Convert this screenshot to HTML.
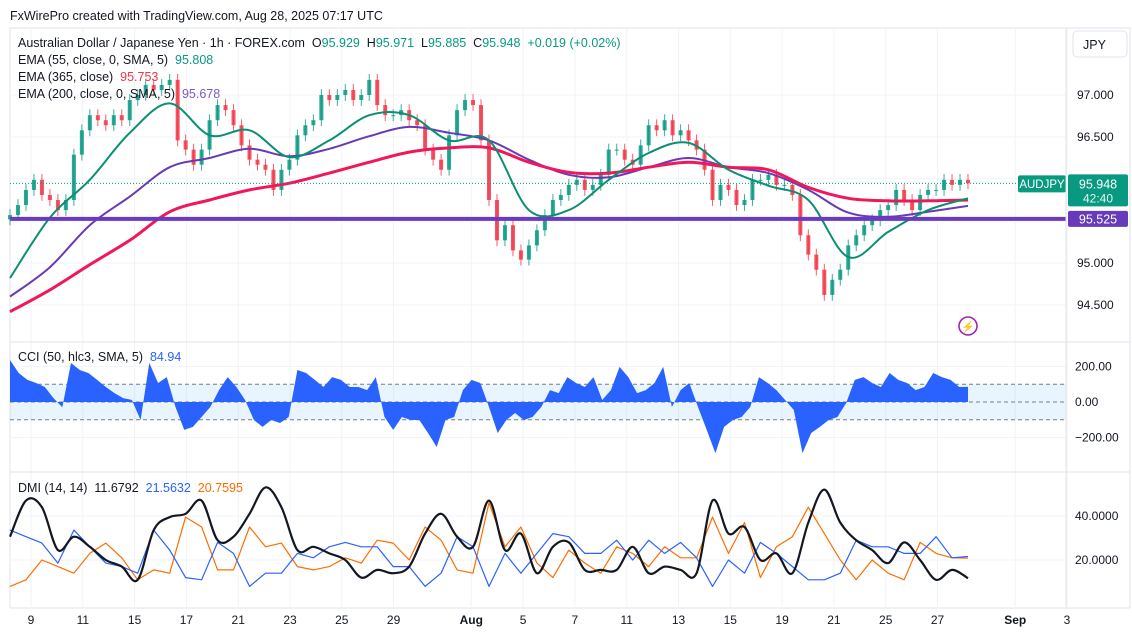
<!DOCTYPE html>
<html><head><meta charset="utf-8"><style>
html,body{margin:0;padding:0;background:#fff;width:1132px;height:637px;overflow:hidden}
svg{display:block;font-family:"Liberation Sans",sans-serif}
.pre text{white-space:pre}
</style></head><body>
<svg id="c" width="1132" height="637" xmlns="http://www.w3.org/2000/svg">
<text x="10" y="20" font-size="12.5" fill="#131722">FxWirePro created with TradingView.com, Aug 28, 2025 07:17 UTC</text>
<rect x="10" y="28" width="1120" height="580" fill="none" stroke="#e0e3eb"/>
<g id="grid"></g>
<g id="price"></g>
<g id="cci"></g>
<g id="dmi"></g>
<g id="axes"></g>
<line x1="1066" y1="28" x2="1066" y2="608" stroke="#e0e3eb"/>
<line x1="10" y1="342" x2="1130" y2="342" stroke="#e0e3eb"/>
<line x1="10" y1="472" x2="1130" y2="472" stroke="#e0e3eb"/>
<g class="pre" font-size="12.5" fill="#131722">
<text x="18" y="47">Australian Dollar / Japanese Yen · 1h · FOREX.com  O<tspan fill="#089981">95.929</tspan>  H<tspan fill="#089981">95.971</tspan>  L<tspan fill="#089981">95.885</tspan>  C<tspan fill="#089981">95.948</tspan>  <tspan fill="#089981">+0.019 (+0.02%)</tspan></text>
<text x="18" y="64">EMA (55, close, 0, SMA, 5)  <tspan fill="#089981">95.808</tspan></text>
<text x="18" y="81">EMA (365, close)  <tspan fill="#f23645">95.753</tspan></text>
<text x="18" y="98">EMA (200, close, 0, SMA, 5)  <tspan fill="#7e57c2">95.678</tspan></text>
<text x="18" y="361">CCI (50, hlc3, SMA, 5)  <tspan fill="#2962ff">84.94</tspan></text>
<text x="18" y="492">DMI (14, 14)  11.6792  <tspan fill="#2962ff">21.5632</tspan>  <tspan fill="#ff6d00">20.7595</tspan></text>
</g>
<g>
<rect x="1073" y="31" width="54" height="26" rx="4" fill="#fff" stroke="#e0e3eb"/>
<text x="1083" y="49" font-size="12.5" fill="#131722">JPY</text></g>
<g>
<circle cx="968" cy="326" r="9" fill="none" stroke="#9c27b0" stroke-width="1.6"/>
<text x="968" y="330.5" font-size="11" fill="#9c27b0" text-anchor="middle">⚡</text></g>
</svg>
<script>
// ---- data ----
const closes=[95.57,95.69,95.87,95.99,95.81,95.75,95.63,95.75,96.29,96.58,96.76,96.70,96.64,96.76,96.70,96.94,97.00,97.12,97.06,97.12,97.18,96.46,96.35,96.17,96.35,96.70,96.88,96.82,96.64,96.40,96.23,96.17,96.11,95.87,96.11,96.23,96.52,96.64,96.70,97.00,96.94,97.00,97.06,96.94,97.00,97.18,96.88,96.76,96.76,96.82,96.70,96.64,96.35,96.23,96.11,96.52,96.82,96.94,96.88,96.46,95.75,95.27,95.45,95.15,95.04,95.21,95.39,95.57,95.75,95.81,95.93,95.99,95.87,95.93,96.05,96.35,96.35,96.23,96.17,96.40,96.64,96.58,96.70,96.52,96.58,96.46,96.35,96.11,95.75,95.93,95.87,95.69,95.75,95.99,95.99,96.05,95.93,95.93,95.81,95.33,95.10,94.92,94.62,94.80,94.92,95.21,95.33,95.45,95.51,95.63,95.69,95.87,95.75,95.63,95.81,95.87,95.87,95.99,95.93,95.99,95.95];
const ema55=[94.82,95.54,95.99,96.55,96.90,96.52,96.58,96.26,96.46,96.76,96.76,96.46,96.46,95.63,95.63,95.99,96.31,96.43,96.11,95.92,95.75,95.07,95.37,95.63,95.77];
const ema200=[94.60,94.95,95.45,95.79,96.14,96.25,96.36,96.27,96.36,96.51,96.62,96.55,96.46,96.23,96.05,96.02,96.14,96.25,96.14,96.07,95.87,95.60,95.55,95.61,95.68];
const ema365=[94.42,94.68,94.98,95.27,95.61,95.75,95.87,95.95,96.07,96.20,96.32,96.37,96.37,96.20,96.08,96.07,96.14,96.20,96.14,96.11,95.90,95.77,95.74,95.74,95.75];
const hLevel=95.525;
const lastPrice=95.948;
const priceTicks=[97.0,96.5,96.0,95.5,95.0,94.5];
const priceTickLabels=["97.000","96.500","","","95.000","94.500"];
const cci=[236,163,124,107,84,22,-30,219,180,163,124,84,50,22,11,-101,219,107,140,-28,-157,-140,-84,-28,67,140,84,11,-101,-140,-101,-118,-84,180,163,124,84,140,124,84,84,67,140,-84,-157,-84,-101,-101,-174,-253,-101,-84,67,124,107,-28,-174,-101,-62,-101,-84,-28,67,50,140,107,84,140,11,67,197,140,50,67,107,197,-28,67,107,-28,-157,-287,-140,-101,-84,-28,140,107,67,11,-45,-287,-174,-140,-101,-84,-6,124,140,107,84,163,124,107,67,84,163,140,124,84,85];
const cciTicks=[200,0,-200];
const cciTickLabels=["200.00","0.00","\u2212200.00"];
const adx=[30.6,47,44,24.5,30.6,26,20,17,11,33.6,39.5,41,47,29,30.6,41,53,44,24.5,26,23,20,12,15.5,14,17,32,41,30.6,26,47,24.5,32,14,26,28,15.5,15.5,15.5,26,14,17,15.5,14,47,32,35,20,23,14,37,52,37,29,24.5,18.6,28,20,11,15.5,11.7];
const diPlus=[33.6,30.6,27.7,18.6,33.6,26,18.6,17,14,33.6,24.5,12,11,28,23,8,14,14,23,21,26,28,26,26,17,17,8,14,30.6,26,8,23,14,23,32,30.6,23,23,29,20,29,23,28,21,8,20,14,28,23,17,11,11,14,29,26,26,23,23,30.6,21,21.6];
const diMinus=[8,11,20,17,14,23,27.7,21,11,15.5,14,39.5,35,15.5,15.5,35,26,27.7,17,15.5,17,21,18.6,29,27.7,20,35,29,15.5,14,46,26,35,18.6,12,24.5,18.6,14,26,23,17,26,21,21,39.5,23,37,12,26,30.6,44,32,20,11,20,14,11,28,23,21,20.8];
const dmiTicks=[40,20];
const dmiTickLabels=["40.0000","20.0000"];
const dateLabels=["9","11","15","17","21","23","25","29","Aug","5","7","11","13","15","19","21","25","27","Sep","3"];
const dateDayIdx=[0,2,4,6,8,10,12,14,17,19,21,23,25,27,29,31,33,35,38,40];

// ---- scales ----
const X0=10,X1=968;
const xi=(i,n)=>X0+i*(X1-X0)/(n-1);
const yP=p=>95+(97-p)*84;
const yC=v=>402-v*0.178;
const yD=v=>560-(v-20)*2.2;
const xDay=d=>31+d*25.9;
const NS="http://www.w3.org/2000/svg";
function mk(tag,attrs,parent){const e=document.createElementNS(NS,tag);for(const k in attrs)e.setAttribute(k,attrs[k]);parent.appendChild(e);return e;}
const G=id=>document.getElementById(id);

// grid
dateDayIdx.forEach((d,i)=>{const l=mk('line',{x1:xDay(d),x2:xDay(d),y1:28,y2:608,stroke:'#f0f3fa'},G('grid'));

});
priceTicks.forEach(p=>{const l=mk('line',{x1:10,x2:1066,y1:yP(p),y2:yP(p),stroke:'#f0f3fa'},G('grid'));

});
[yC(200),yC(-200),yD(40),yD(20)].forEach(y=>{const l=mk('line',{x1:10,x2:1066,y1:y,y2:y,stroke:'#f0f3fa'},G('grid'));

});

// price pane
const pp=G('price');
const n=closes.length;
for(let i=0;i<n;i++){
  const o=i?closes[i-1]:closes[i]-0.05,c=closes[i];
  const up=c>=o,col=up?'#089981':'#f23645';
  const x=xi(i,n);
  const w=mk('line',{x1:x,x2:x,y1:yP(Math.max(o,c)+0.07),y2:yP(Math.min(o,c)-0.07),stroke:col,'stroke-width':1,'stroke-opacity':0.8},pp);
  
  
  const b=mk('rect',{x:x-2,y:yP(Math.max(o,c)),width:4,height:Math.max(1,Math.abs(yP(o)-yP(c))),fill:col,'fill-opacity':0.85},pp);
  
  
}
function smoothPath(pts){
  let d='M'+pts[0][0].toFixed(1)+' '+pts[0][1].toFixed(1);
  for(let i=0;i<pts.length-1;i++){
    const p0=pts[i-1]||pts[i],p1=pts[i],p2=pts[i+1],p3=pts[i+2]||p2;
    const c1=[p1[0]+(p2[0]-p0[0])/6,p1[1]+(p2[1]-p0[1])/6];
    const c2=[p2[0]-(p3[0]-p1[0])/6,p2[1]-(p3[1]-p1[1])/6];
    d+=' C'+c1[0].toFixed(1)+' '+c1[1].toFixed(1)+' '+c2[0].toFixed(1)+' '+c2[1].toFixed(1)+' '+p2[0].toFixed(1)+' '+p2[1].toFixed(1);
  }
  return d;
}
function line(arr,yf,col,w,parent,name,smooth){
  const pts=arr.map((v,i)=>[xi(i,arr.length),yf(v)]);
  const d=smooth?smoothPath(pts):pts.map((p,i)=>(i?'L':'M')+p[0].toFixed(1)+' '+p[1].toFixed(1)).join(' ');
  const p=mk('path',{d:d,fill:'none',stroke:col,'stroke-width':w,'stroke-linejoin':'round'},parent);
  
  
}
line(ema200,yP,'#673ab7',2,pp,'ema200-line',true);
line(ema365,yP,'#f0185a',3,pp,'ema365-line',true);
line(ema55,yP,'#0b8f72',2,pp,'ema55-line',true);
const hl=mk('line',{x1:10,x2:1066,y1:yP(hLevel),y2:yP(hLevel),stroke:'#6a3bc0','stroke-width':4},pp);


const pl=mk('line',{x1:10,x2:1066,y1:yP(lastPrice),y2:yP(lastPrice),stroke:'#089981','stroke-width':1,'stroke-dasharray':'1 2'},pp);



// CCI pane
const cp=G('cci');
const band=mk('rect',{x:10,y:yC(100),width:1056,height:yC(-100)-yC(100),fill:'#2196f3','fill-opacity':0.1},cp);


[100,0,-100].forEach(v=>{const l=mk('line',{x1:10,x2:1066,y1:yC(v),y2:yC(v),stroke:'#787b86','stroke-dasharray':'4 3','stroke-width':1},cp);

});
let cd='M'+xi(0,cci.length)+' '+yC(0);
cci.forEach((v,i)=>{cd+=' L'+xi(i,cci.length).toFixed(1)+' '+yC(v).toFixed(1);});
cd+=' L'+xi(cci.length-1,cci.length)+' '+yC(0)+' Z';
const ca=mk('path',{d:cd,fill:'#2962ff'},cp);



// DMI pane
const dp=G('dmi');
line(diMinus,yD,'#ff6d00',1.2,dp,'di-minus-line');
line(diPlus,yD,'#2962ff',1.2,dp,'di-plus-line');
line(adx,yD,'#131722',2.2,dp,'adx-line',true);

// axes labels
const ax=G('axes');
priceTicks.forEach((p,i)=>{if(!priceTickLabels[i])return;const t=mk('text',{x:1077,y:yP(p)+4,'font-size':12,fill:'#131722'},ax);t.textContent=priceTickLabels[i];

});
cciTicks.forEach((v,i)=>{const t=mk('text',{x:1075,y:yC(v)+4,'font-size':12,fill:'#131722'},ax);t.textContent=cciTickLabels[i];

});
dmiTicks.forEach((v,i)=>{const t=mk('text',{x:1075,y:yD(v)+4,'font-size':12,fill:'#131722'},ax);t.textContent=dmiTickLabels[i];

});
dateLabels.forEach((s,i)=>{const bold=(s==='Aug'||s==='Sep');const t=mk('text',{x:xDay(dateDayIdx[i]),y:624,'font-size':12,fill:'#131722','text-anchor':'middle','font-weight':bold?'bold':'normal'},ax);t.textContent=s;

});
// price tags
const tag=mk('g',{},ax);


mk('rect',{x:1018,y:yP(lastPrice)-8,width:48,height:17,fill:'#089981',rx:2},tag);
const t1=mk('text',{x:1042,y:yP(lastPrice)+4.5,'font-size':11.5,fill:'#fff','text-anchor':'middle'},tag);t1.textContent='AUDJPY';
mk('rect',{x:1068,y:yP(lastPrice)-9,width:60,height:32,fill:'#089981',rx:2},tag);
const t2=mk('text',{x:1098,y:yP(lastPrice)+5,'font-size':12.5,fill:'#fff','text-anchor':'middle'},tag);t2.textContent=lastPrice.toFixed(3);
const t3=mk('text',{x:1098,y:yP(lastPrice)+19,'font-size':12,fill:'#e6f4f1','text-anchor':'middle'},tag);t3.textContent='42:40';
const lt=mk('g',{},ax);


mk('rect',{x:1068,y:yP(hLevel)-8,width:60,height:16,fill:'#673ab7',rx:2},lt);
const t4=mk('text',{x:1098,y:yP(hLevel)+4.5,'font-size':12.5,fill:'#fff','text-anchor':'middle'},lt);t4.textContent=hLevel.toFixed(3);
</script>
</body></html>
